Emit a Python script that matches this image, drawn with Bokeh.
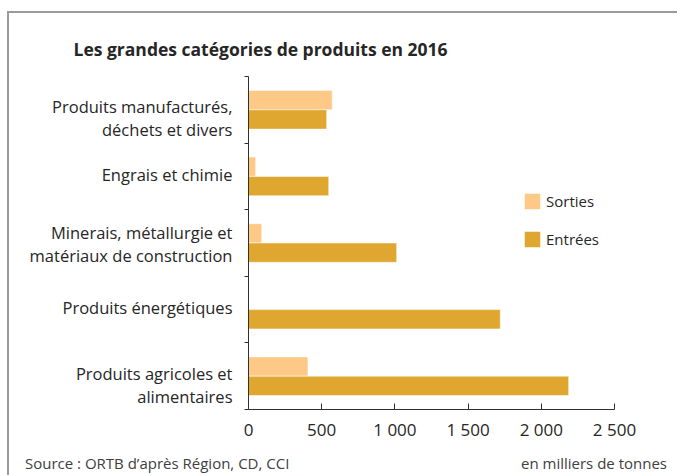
from bokeh.plotting import figure
from bokeh.models import Range1d, FixedTicker, Legend, LegendItem, ColumnDataSource, LinearAxis, Div
from bokeh.layouts import column
from bokeh.embed import file_html
from bokeh.resources import INLINE

# ---- data ----
categories = [
    "Produits manufacturés,\ndéchets et divers",
    "Engrais et chimie",
    "Minerais, métallurgie et\nmatériaux de construction",
    "Produits énergétiques",
    "Produits agricoles et\nalimentaires",
]
sorties = [572, 49, 90, 0, 406]
entrees = [534, 548, 1012, 1720, 2187]
x_ticks = [0, 500, 1000, 1500, 2000, 2500]
x_tick_labels = ["0", "500", "1 000", "1 500", "2 000", "2 500"]
series_names = ["Sorties", "Entrées"]
title_text = "Les grandes catégories de produits en 2016"
source_text = "Source : ORTB d\u2019après Région, CD, CCI"
unit_text = "en milliers de tonnes"

C_SORT = "#FEC986"
C_ENTR = "#DFA72F"
FONT = "Open Sans"
TXT = "#262626"

n = len(categories)
centers = [i + 0.5 for i in range(n)]
off = 0.145
bh = 0.29
# vertical nudge of the category labels, in category units
label_nudge = [0.128, -0.03, 0.01, -0.03, 0.13]

src = ColumnDataSource(dict(
    y_s=[c - off for c in centers],
    y_e=[c + off for c in centers],
    sorties=sorties,
    entrees=entrees,
))

p = figure(width=668, height=440, output_backend="svg", toolbar_location=None,
           x_range=Range1d(0, 2500), y_range=Range1d(n, 0),
           min_border_left=239, min_border_right=63, min_border_top=63, min_border_bottom=44)
p.outline_line_color = None
p.xgrid.visible = False
p.ygrid.visible = False
p.background_fill_color = "white"
p.border_fill_color = "white"

r_s = p.hbar(y="y_s", right="sorties", left=0, height=bh, source=src,
             fill_color=C_SORT, line_color="white", line_alpha=0.5, line_width=1)
r_e = p.hbar(y="y_e", right="entrees", left=0, height=bh, source=src,
             fill_color=C_ENTR, line_color="white", line_alpha=0.5, line_width=1)

# title
p.title.text = title_text
p.title.text_font = FONT
p.title.text_font_size = "17.5px"
p.title.text_font_style = "bold"
p.title.text_color = TXT
p.title.align = "left"
p.title.vertical_align = "top"
p.title.offset = -175
p.title.standoff = 28

# x axis
xa = p.xaxis[0]
xa.ticker = FixedTicker(ticks=x_ticks)
xa.major_label_overrides = {t: l for t, l in zip(x_ticks, x_tick_labels)}
xa.major_tick_in = 6
xa.major_tick_out = 0
xa.minor_tick_line_color = None
xa.axis_line_color = "#303030"
xa.major_tick_line_color = "#303030"
xa.major_label_text_font = FONT
xa.major_label_text_font_size = "17px"
xa.major_label_text_color = TXT
xa.major_label_standoff = 8

# y axis: ticks at category boundaries, no labels
ya = p.yaxis[0]
ya.ticker = FixedTicker(ticks=list(range(n + 1)))
ya.major_label_overrides = {i: "" for i in range(n + 1)}
ya.major_label_standoff = 0
ya.major_tick_in = 0
ya.major_tick_out = 4
ya.minor_tick_line_color = None
ya.axis_line_color = "#303030"
ya.major_tick_line_color = "#303030"

# second left axis carrying the category names
lab_pos = [c + d for c, d in zip(centers, label_nudge)]
la = LinearAxis(ticker=FixedTicker(ticks=lab_pos),
                major_label_overrides={pos: lab for pos, lab in zip(lab_pos, categories)},
                axis_line_color=None, major_tick_line_color=None, minor_tick_line_color=None,
                major_tick_in=0, major_tick_out=0, major_label_standoff=12,
                major_label_text_font=FONT, major_label_text_font_size="16.5px",
                major_label_text_color=TXT, major_label_text_line_height=1.0)
p.add_layout(la, "left")

legend = Legend(items=[LegendItem(label=series_names[0], renderers=[r_s]),
                       LegendItem(label=series_names[1], renderers=[r_e])],
                location=(274, 160), orientation="vertical",
                glyph_width=20, glyph_height=20, label_height=20,
                spacing=18, padding=0, margin=0, label_standoff=4,
                border_line_color=None, background_fill_alpha=0,
                label_text_font=FONT, label_text_font_size="15px",
                label_text_color=TXT)
p.add_layout(legend)

footer = Div(
    text=("<div style=\"display:flex;justify-content:space-between;width:668px;"
          "box-sizing:border-box;white-space:nowrap;"
          "font-family:'Open Sans';font-size:15px;color:#404040;"
          "padding:0 10px 0 16px;line-height:20px;\">"
          f"<span>{source_text}</span><span>{unit_text}</span></div>"),
    width=668, height=22, margin=0)

layout = column(p, footer, spacing=0)
layout.styles = {"border-top": "2px solid #9a9a9a", "border-left": "2px solid #9a9a9a",
                 "margin-top": "11px", "margin-left": "7px"}

open("out.html", "w").write(file_html(layout, INLINE))
